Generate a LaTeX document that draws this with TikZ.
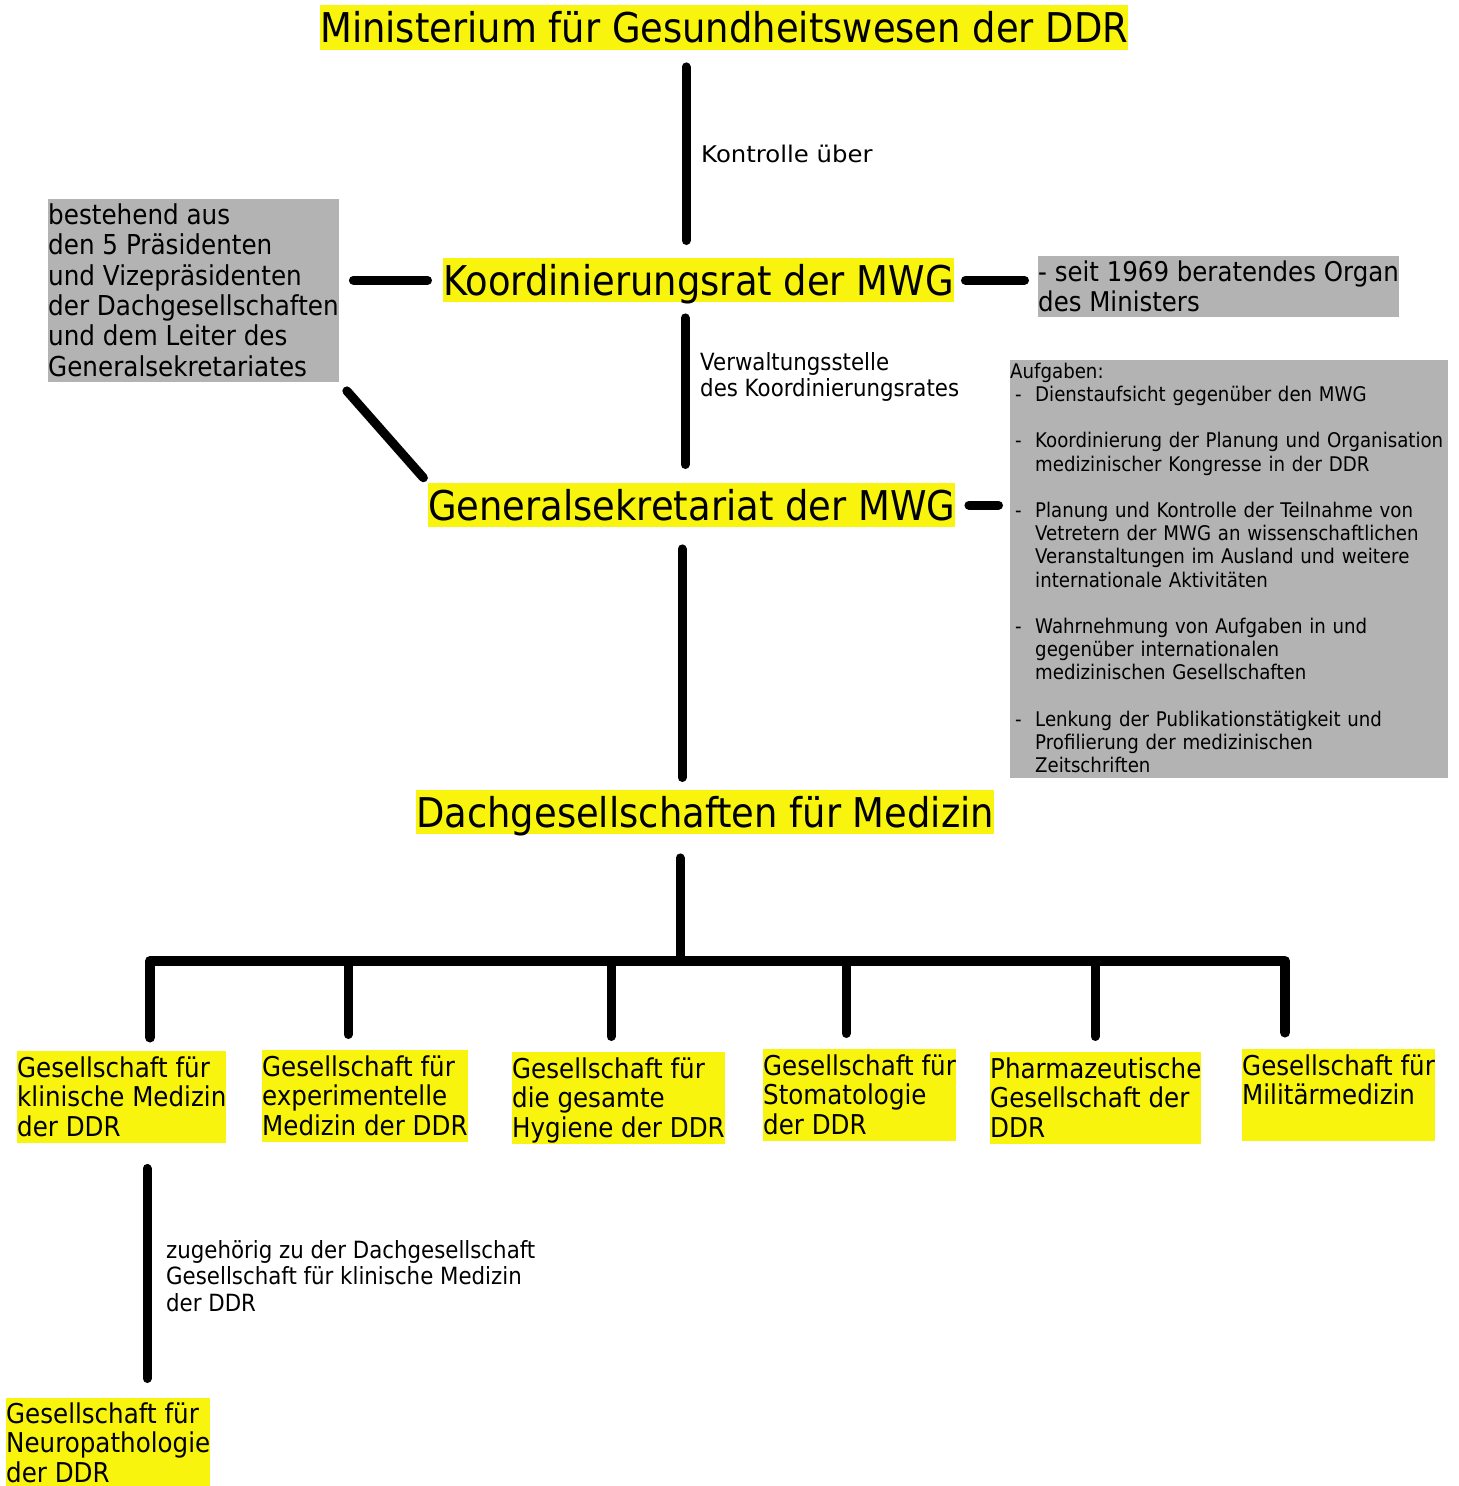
\documentclass[tikz,border=0pt]{standalone}
\usepackage{fontspec}
\setmainfont{DejaVu Sans}[FakeStretch=0.9]
\newfontfamily\breitfont{DejaVu Sans}[FakeStretch=1.06]
\usetikzlibrary{positioning}
\definecolor{mwggelb}{HTML}{F9F40D}
\definecolor{mwggrau}{HTML}{B3B3B3}
\newcommand{\punkt}{\makebox[25pt][l]{\hspace{5pt}-}}
\newcommand{\weiter}{\hspace*{25pt}}
\newcommand{\obenh}{0pt}
\newcommand{\obn}{\rule{0pt}{\obenh}}

\begin{document}
\begin{tikzpicture}[
    x=1pt, y=-1pt,
    kasten/.style={inner xsep=0pt, inner ysep=0pt, align=left, anchor=north west},
    hoch/.style 2 args={execute at begin node={\def\obenh{#1}},
                        execute at end node={\rule[-#2]{0pt}{#2}}},
    gelb/.style={kasten, fill=mwggelb},
    grau/.style={kasten, fill=mwggrau},
    gross/.style={gelb, font=\fontsize{41}{44}\selectfont, text height=37pt, text depth=7pt},
    ges/.style={gelb, font=\fontsize{27.3}{29.5}\selectfont, hoch={26pt}{6.5pt}},
    lbl/.style={inner sep=0pt, align=left, anchor=west, font=\fontsize{23.7}{26.7}\selectfont},
    verb/.style={line width=9pt, line cap=round, line join=round},
  ]
    \useasboundingbox (0,0) rectangle (1459,1486);

    % obere Ebene
    \node[gross, text depth=8pt] (mini) at (320,5) {Ministerium für Gesundheitswesen der DDR};
    \node[gross] (koord)  at (443,258) {Koordinierungsrat der MWG};
    \node[gross] (gensek) at (428,483) {Generalsekretariat der MWG};
    \node[gross] (dach)   at (416,790) {Dachgesellschaften für Medizin};

    \node[grau, font=\fontsize{27.4}{30.4}\selectfont, hoch={25pt}{5.5pt}] (rat) at (48,199)
      {\obn bestehend aus\\den 5 Präsidenten\\und Vizepräsidenten\\der Dachgesellschaften\\und dem Leiter des\\Generalsekretariates};
    \node[grau, font=\fontsize{27.2}{30}\selectfont, hoch={25pt}{6pt}] (organ) at (1038,256)
      {\obn - seit 1969 beratendes Organ\\des Ministers};
    \node[grau, font=\fontsize{20.2}{23.2}\selectfont, hoch={18pt}{5pt}, text width=438pt] (aufg) at (1010,360)
      {\obn Aufgaben:\\
       \punkt Dienstaufsicht gegenüber den MWG\\[23.2pt]
       \punkt Koordinierung der Planung und Organisation\\
       \weiter medizinischer Kongresse in der DDR\\[23.2pt]
       \punkt Planung und Kontrolle der Teilnahme von\\
       \weiter Vetretern der MWG an wissenschaftlichen\\
       \weiter Veranstaltungen im Ausland und weitere\\
       \weiter internationale Aktivitäten\\[23.2pt]
       \punkt Wahrnehmung von Aufgaben in und\\
       \weiter gegenüber internationalen\\
       \weiter medizinischen Gesellschaften\\[23.2pt]
       \punkt Lenkung der Publikationstätigkeit und\\
       \weiter Profilierung der medizinischen\\
       \weiter Zeitschriften};

    \node[lbl, font=\breitfont\fontsize{23}{26.7}\selectfont] (kontr) at (701,154) {Kontrolle über};
    \node[lbl] (verw)  at (700,377) {Verwaltungsstelle\\des Koordinierungsrates};

    % Gesellschaften
    \node[ges] (g1) at (17,1051)   {\obn Gesellschaft für\\klinische Medizin\\der DDR};
    \node[ges] (g2) at (262,1050)  {\obn Gesellschaft für\\experimentelle\\Medizin der DDR};
    \node[ges] (g3) at (512,1052)  {\obn Gesellschaft für\\die gesamte\\Hygiene der DDR};
    \node[ges] (g4) at (763,1049)  {\obn Gesellschaft für\\Stomatologie\\der DDR};
    \node[ges] (g5) at (990,1052)  {\obn Pharmazeutische\\Gesellschaft der\\DDR};
    \node[ges] (g6) at (1242,1049) {\obn Gesellschaft für\\Militärmedizin\\\mbox{}};
    \node[ges, hoch={25pt}{3pt}] (neuro) at (6,1398) {\obn Gesellschaft für\\Neuropathologie\\der DDR};

    \node[lbl] (zug) at (166,1276)
      {zugehörig zu der Dachgesellschaft\\Gesellschaft für klinische Medizin\\der DDR};

    % Verbindungen
    \draw[verb, shorten <=16.5pt, shorten >=17.5pt]
      ([xshift=243pt]koord.north west |- mini.south) -- ([xshift=243pt]koord.north west);
    \draw[verb, shorten <=14.5pt, shorten >=15.5pt] (koord.west -| rat.east) -- (koord.west);
    \draw[verb, shorten <=11.5pt, shorten >=13.5pt] (koord.east) -- (koord.east -| organ.west);
    \draw[verb, shorten <=15.5pt, shorten >=18.5pt]
      ([xshift=242pt]koord.south west) -- ([xshift=242pt]koord.south west |- gensek.north);
    \draw[verb, shorten <=12pt, shorten >=7pt] (rat.south east) -- (gensek.north west);
    \draw[verb, shorten <=13.5pt, shorten >=11.5pt] (gensek.east) -- (gensek.east -| aufg.west);
    \draw[verb, shorten <=21.5pt, shorten >=12.5pt]
      ([xshift=254pt]gensek.south west) -- ([xshift=254pt]gensek.south west |- dach.north);

    \coordinate (knoten) at ([xshift=264pt]dach.south west |- 0,961);
    \draw[verb, shorten <=23.5pt] ([xshift=264pt]dach.south west) -- (knoten);
    \draw[verb, line width=10pt, shorten <=13.5pt, shorten >=16.5pt]
      ([xshift=133pt]g1.north west) |- (knoten) -| ([xshift=43pt]g6.north west);
    \foreach \g/\dx in {g2/86, g3/99, g4/83, g5/105}
      \draw[verb, shorten >=15.5pt] ([xshift=\dx pt]\g.north west |- knoten) -- ([xshift=\dx pt]\g.north west);

    \draw[verb, shorten <=25.5pt, shorten >=19.5pt]
      ([xshift=130pt]g1.south west) -- ([xshift=130pt]g1.south west |- neuro.north);
  \end{tikzpicture}
\end{document}
